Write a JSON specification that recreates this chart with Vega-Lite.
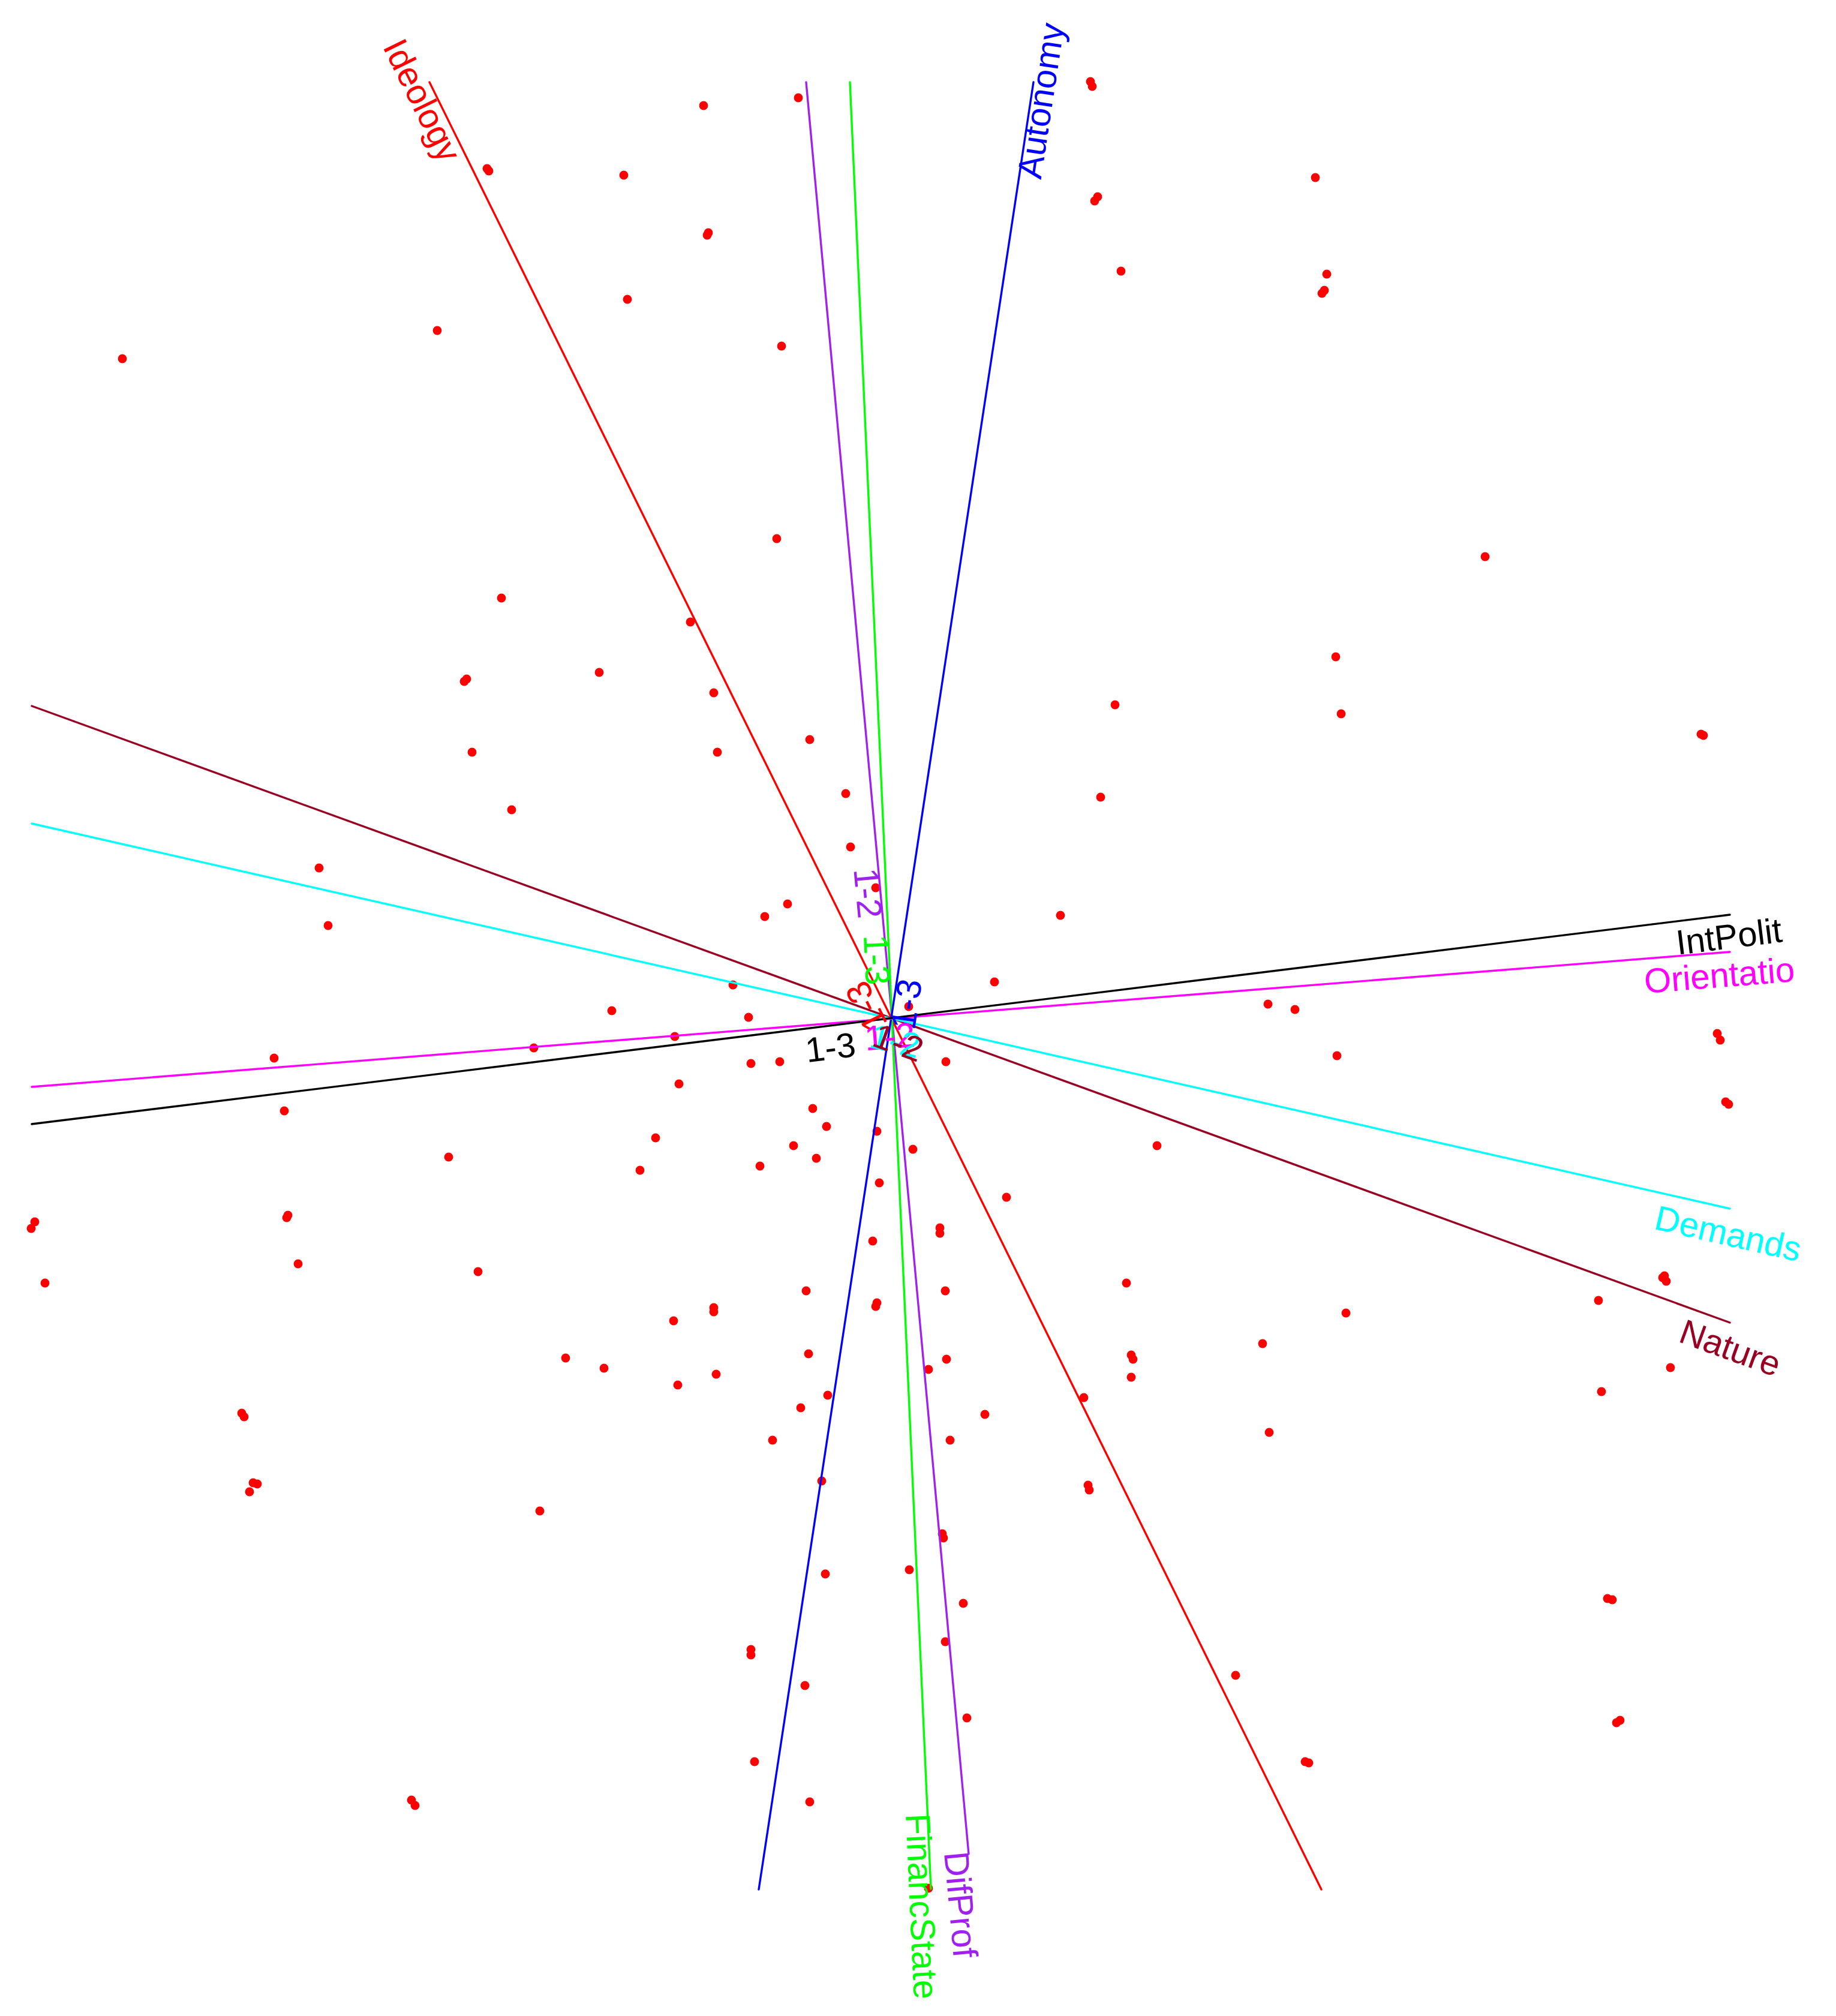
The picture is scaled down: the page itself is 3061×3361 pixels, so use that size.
{
  "$schema": "https://vega.github.io/schema/vega-lite/v6.json",
  "width": 3061,
  "height": 3361,
  "padding": 0,
  "autosize": {"type": "fit", "contains": "padding"},
  "background": "white",
  "config": {"view": {"stroke": null}},
  "datasets": {
    "points": [
      {"u": -0.154, "v": 1.533}, {"u": -0.312, "v": 1.520}, {"u": 0.333, "v": 1.560}, {"u": 0.336, "v": 1.552},
      {"u": -0.673, "v": 1.415}, {"u": -0.670, "v": 1.411}, {"u": -0.445, "v": 1.404}, {"u": 0.708, "v": 1.400},
      {"u": 0.340, "v": 1.361}, {"u": 0.345, "v": 1.368}, {"u": -0.306, "v": 1.304}, {"u": -0.304, "v": 1.308},
      {"u": 0.727, "v": 1.239}, {"u": 0.723, "v": 1.212}, {"u": 0.719, "v": 1.207}, {"u": 0.384, "v": 1.244},
      {"u": -0.439, "v": 1.197}, {"u": -0.756, "v": 1.145}, {"u": -1.281, "v": 1.098}, {"u": -0.182, "v": 1.119},
      {"u": -0.190, "v": 0.798}, {"u": 0.991, "v": 0.768}, {"u": -0.649, "v": 0.699}, {"u": -0.334, "v": 0.659},
      {"u": 0.742, "v": 0.601}, {"u": -0.486, "v": 0.575}, {"u": -0.707, "v": 0.564}, {"u": -0.711, "v": 0.560},
      {"u": -0.295, "v": 0.541}, {"u": 0.374, "v": 0.521}, {"u": 0.751, "v": 0.506}, {"u": 1.351, "v": 0.472},
      {"u": 1.355, "v": 0.470}, {"u": -0.135, "v": 0.463}, {"u": -0.698, "v": 0.442}, {"u": -0.289, "v": 0.442},
      {"u": -0.075, "v": 0.373}, {"u": 0.350, "v": 0.367}, {"u": -0.632, "v": 0.346}, {"u": -0.067, "v": 0.284},
      {"u": -0.953, "v": 0.249}, {"u": -0.025, "v": 0.216}, {"u": -0.172, "v": 0.189}, {"u": -0.210, "v": 0.168},
      {"u": 0.283, "v": 0.170}, {"u": -0.938, "v": 0.153}, {"u": 0.173, "v": 0.059}, {"u": -0.263, "v": 0.054},
      {"u": 0.629, "v": 0.022}, {"u": 0.674, "v": 0.013}, {"u": -0.465, "v": 0.011}, {"u": -0.237, "v": 0.000},
      {"u": 0.030, "v": 0.018}, {"u": -0.360, "v": -0.032}, {"u": -0.595, "v": -0.051}, {"u": 1.378, "v": -0.027},
      {"u": 1.383, "v": -0.038}, {"u": -1.028, "v": -0.068}, {"u": -0.233, "v": -0.077}, {"u": -0.185, "v": -0.074},
      {"u": 0.744, "v": -0.064}, {"u": 0.092, "v": -0.074}, {"u": -0.353, "v": -0.111}, {"u": 1.397, "v": -0.145},
      {"u": 1.392, "v": -0.141}, {"u": -1.011, "v": -0.156}, {"u": -0.130, "v": -0.152}, {"u": -0.107, "v": -0.182},
      {"u": -0.023, "v": -0.190}, {"u": -0.392, "v": -0.201}, {"u": -0.162, "v": -0.214}, {"u": 0.444, "v": -0.214},
      {"u": 0.037, "v": -0.220}, {"u": -0.737, "v": -0.233}, {"u": -0.124, "v": -0.235}, {"u": -0.218, "v": -0.248},
      {"u": -0.418, "v": -0.255}, {"u": -0.019, "v": -0.276}, {"u": 0.193, "v": -0.300}, {"u": -1.005, "v": -0.330},
      {"u": -1.007, "v": -0.334}, {"u": -1.427, "v": -0.341}, {"u": -1.433, "v": -0.352}, {"u": 0.082, "v": -0.351},
      {"u": 0.082, "v": -0.360}, {"u": -0.030, "v": -0.373}, {"u": -0.988, "v": -0.411}, {"u": -0.688, "v": -0.424},
      {"u": -1.410, "v": -0.443}, {"u": 0.393, "v": -0.443}, {"u": 1.287, "v": -0.434}, {"u": 1.293, "v": -0.440},
      {"u": 1.290, "v": -0.431}, {"u": -0.141, "v": -0.456}, {"u": 0.091, "v": -0.456}, {"u": -0.295, "v": -0.484},
      {"u": -0.295, "v": -0.491}, {"u": -0.023, "v": -0.476}, {"u": -0.025, "v": -0.482}, {"u": 1.180, "v": -0.472},
      {"u": -0.362, "v": -0.506}, {"u": 0.759, "v": -0.493}, {"u": 0.620, "v": -0.544}, {"u": -0.137, "v": -0.561},
      {"u": 0.401, "v": -0.563}, {"u": 0.404, "v": -0.570}, {"u": 0.093, "v": -0.570}, {"u": -0.542, "v": -0.568},
      {"u": -0.478, "v": -0.585}, {"u": -0.291, "v": -0.595}, {"u": 0.063, "v": -0.587}, {"u": 0.401, "v": -0.600},
      {"u": 1.300, "v": -0.584}, {"u": -0.355, "v": -0.613}, {"u": 1.185, "v": -0.624}, {"u": -0.105, "v": -0.630},
      {"u": 0.322, "v": -0.634}, {"u": -0.150, "v": -0.651}, {"u": -1.082, "v": -0.660}, {"u": -1.078, "v": -0.666},
      {"u": 0.157, "v": -0.662}, {"u": 0.631, "v": -0.692}, {"u": -0.197, "v": -0.705}, {"u": 0.099, "v": -0.705},
      {"u": -0.115, "v": -0.773}, {"u": -1.063, "v": -0.776}, {"u": -1.069, "v": -0.791}, {"u": -1.056, "v": -0.778},
      {"u": 0.329, "v": -0.780}, {"u": 0.331, "v": -0.788}, {"u": -0.585, "v": -0.823}, {"u": 0.086, "v": -0.861},
      {"u": 0.088, "v": -0.868}, {"u": -0.109, "v": -0.928}, {"u": 0.031, "v": -0.921}, {"u": 0.121, "v": -0.977},
      {"u": 1.195, "v": -0.969}, {"u": 1.203, "v": -0.971}, {"u": 0.091, "v": -1.041}, {"u": -0.233, "v": -1.054},
      {"u": -0.233, "v": -1.063}, {"u": -0.143, "v": -1.114}, {"u": 0.575, "v": -1.097}, {"u": 0.127, "v": -1.168},
      {"u": 1.210, "v": -1.176}, {"u": 1.216, "v": -1.172}, {"u": -0.227, "v": -1.241}, {"u": 0.691, "v": -1.241},
      {"u": 0.697, "v": -1.243}, {"u": -0.799, "v": -1.305}, {"u": -0.793, "v": -1.314}, {"u": -0.135, "v": -1.308},
      {"u": 0.063, "v": -1.452}
    ],
    "lines": [
      {"var": "Ideology", "u": -0.769, "v": 1.559, "u2": 0.718, "v2": -1.454},
      {"var": "DifProf", "u": -0.141, "v": 1.559, "u2": 0.130, "v2": -1.395},
      {"var": "FinancState", "u": -0.068, "v": 1.559, "u2": 0.067, "v2": -1.453},
      {"var": "Autonomy", "u": 0.238, "v": 1.559, "u2": -0.220, "v2": -1.454},
      {"var": "Nature", "u": -1.432, "v": 0.519, "u2": 1.399, "v2": -0.509},
      {"var": "Demands", "u": -1.432, "v": 0.323, "u2": 1.399, "v2": -0.319},
      {"var": "Orientatio", "u": -1.432, "v": -0.116, "u2": 1.399, "v2": 0.109},
      {"var": "IntPolit", "u": -1.432, "v": -0.178, "u2": 1.399, "v2": 0.171}
    ],
    "labels": [
      {"var": "Ideology", "kind": "name", "label": "Ideology", "u": -0.799, "v": 1.520},
      {"var": "Autonomy", "kind": "name", "label": "Autonomy", "u": 0.270, "v": 1.525},
      {"var": "FinancState", "kind": "name", "label": "FinancState", "u": 0.032, "v": -1.483},
      {"var": "DifProf", "kind": "name", "label": "DifProf", "u": 0.097, "v": -1.481},
      {"var": "IntPolit", "kind": "name", "label": "IntPolit", "u": 1.400, "v": 0.115},
      {"var": "Orientatio", "kind": "name", "label": "Orientatio", "u": 1.383, "v": 0.050},
      {"var": "Demands", "kind": "name", "label": "Demands", "u": 1.392, "v": -0.380},
      {"var": "Nature", "kind": "name", "label": "Nature", "u": 1.393, "v": -0.570},
      {"var": "DifProf", "kind": "tick", "label": "1-2", "u": -0.058, "v": 0.205},
      {"var": "FinancState", "kind": "tick", "label": "1-3", "u": -0.043, "v": 0.095},
      {"var": "Ideology", "kind": "tick", "label": "1-3", "u": -0.023, "v": 0.027},
      {"var": "Autonomy", "kind": "tick", "label": "1-3", "u": 0.046, "v": 0.019},
      {"var": "IntPolit", "kind": "tick", "label": "1-3", "u": -0.098, "v": -0.070},
      {"var": "Orientatio", "kind": "tick", "label": "1-2", "u": 0.000, "v": -0.052},
      {"var": "Demands", "kind": "tick", "label": "1-2", "u": 0.003, "v": -0.059},
      {"var": "Nature", "kind": "tick", "label": "1-2", "u": 0.006, "v": -0.061}
    ]
  },
  "encoding": {
    "x": {"field": "u", "type": "quantitative", "scale": {"domain": [-1.485, 1.576], "nice": false, "zero": false}, "axis": null},
    "y": {"field": "v", "type": "quantitative", "scale": {"domain": [-1.665, 1.696], "nice": false, "zero": false}, "axis": null},
    "color": {
      "field": "var", "type": "nominal", "legend": null,
      "scale": {
        "domain": ["Ideology", "DifProf", "FinancState", "Autonomy", "Nature", "Demands", "Orientatio", "IntPolit"],
        "range": ["#FF0000", "#A020F0", "#00FF00", "#0000FF", "#9A0022", "#00FFFF", "#FF00FF", "#000000"]
      }
    }
  },
  "layer": [
    {
      "data": {"name": "points"},
      "mark": {"type": "circle", "color": "#FF0000", "size": 220, "opacity": 1},
      "encoding": {"color": {"value": "#FF0000"}}
    },
    {
      "data": {"name": "lines"},
      "mark": {"type": "rule", "strokeWidth": 3.4, "strokeCap": "round"},
      "encoding": {"x2": {"field": "u2"}, "y2": {"field": "v2"}}
    },
    {
      "data": {"name": "labels"},
      "transform": [{"filter": "datum.var === 'Ideology' && datum.kind === 'name'"}],
      "mark": {"type": "text", "angle": 63.73, "align": "center", "baseline": "alphabetic", "font": "Liberation Sans", "fontSize": 58},
      "encoding": {"text": {"field": "label"}}
    },
    {
      "data": {"name": "labels"},
      "transform": [{"filter": "datum.var === 'Ideology' && datum.kind === 'tick'"}],
      "mark": {"type": "text", "angle": 243.73, "align": "center", "baseline": "alphabetic", "font": "Liberation Sans", "fontSize": 58},
      "encoding": {"text": {"field": "label"}}
    },
    {
      "data": {"name": "labels"},
      "transform": [{"filter": "datum.var === 'Autonomy'"}],
      "mark": {"type": "text", "angle": 278.64, "align": "center", "baseline": "alphabetic", "font": "Liberation Sans", "fontSize": 58},
      "encoding": {"text": {"field": "label"}}
    },
    {
      "data": {"name": "labels"},
      "transform": [{"filter": "datum.var === 'FinancState'"}],
      "mark": {"type": "text", "angle": 87.43, "align": "center", "baseline": "alphabetic", "font": "Liberation Sans", "fontSize": 58},
      "encoding": {"text": {"field": "label"}}
    },
    {
      "data": {"name": "labels"},
      "transform": [{"filter": "datum.var === 'DifProf'"}],
      "mark": {"type": "text", "angle": 84.76, "align": "center", "baseline": "alphabetic", "font": "Liberation Sans", "fontSize": 58},
      "encoding": {"text": {"field": "label"}}
    },
    {
      "data": {"name": "labels"},
      "transform": [{"filter": "datum.var === 'IntPolit'"}],
      "mark": {"type": "text", "angle": 352.97, "align": "center", "baseline": "alphabetic", "font": "Liberation Sans", "fontSize": 58},
      "encoding": {"text": {"field": "label"}}
    },
    {
      "data": {"name": "labels"},
      "transform": [{"filter": "datum.var === 'Orientatio'"}],
      "mark": {"type": "text", "angle": 355.46, "align": "center", "baseline": "alphabetic", "font": "Liberation Sans", "fontSize": 58},
      "encoding": {"text": {"field": "label"}}
    },
    {
      "data": {"name": "labels"},
      "transform": [{"filter": "datum.var === 'Demands'"}],
      "mark": {"type": "text", "angle": 12.78, "align": "center", "baseline": "alphabetic", "font": "Liberation Sans", "fontSize": 58},
      "encoding": {"text": {"field": "label"}}
    },
    {
      "data": {"name": "labels"},
      "transform": [{"filter": "datum.var === 'Nature'"}],
      "mark": {"type": "text", "angle": 19.95, "align": "center", "baseline": "alphabetic", "font": "Liberation Sans", "fontSize": 58},
      "encoding": {"text": {"field": "label"}}
    }
  ]
}
